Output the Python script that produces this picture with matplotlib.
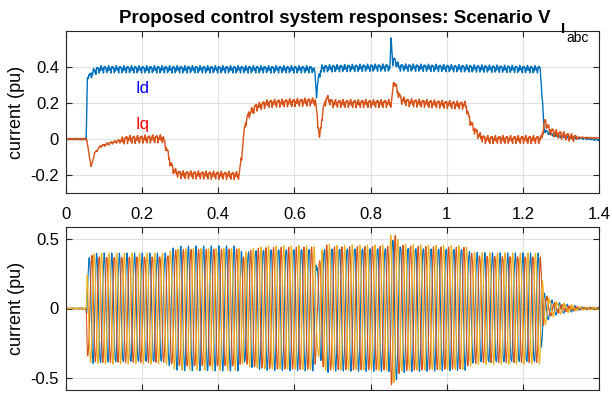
import numpy as np
import matplotlib.pyplot as plt

plt.rcParams['font.family'] = ['Liberation Sans', 'DejaVu Sans']

# d-axis current, breakpoints (s, pu)
id_t = [0, 0.053, 0.056, 0.060, 0.066, 0.075, 0.09, 0.650, 0.654, 0.658,
        0.664, 0.672, 0.851, 0.854, 0.858, 0.862, 0.875, 1.246, 1.250,
        1.256, 1.27, 1.30, 1.40]
id_v = [0, 0, 0.34, 0.35, 0.36, 0.38, 0.39, 0.39, 0.36, 0.25,
        0.35, 0.395, 0.40, 0.555, 0.43, 0.44, 0.40, 0.39, 0.25,
        0.05, 0.03, 0.015, -0.005]

# q-axis current
iq_t = [0, 0.054, 0.066, 0.075, 0.09, 0.12, 0.16, 0.255, 0.265, 0.275,
        0.285, 0.30, 0.455, 0.462, 0.47, 0.48, 0.50, 0.53, 0.655, 0.660,
        0.666, 0.674, 0.684, 0.70, 0.855, 0.861, 0.87, 0.88, 0.90, 1.05,
        1.058, 1.07, 1.085, 1.10, 1.248, 1.258, 1.27, 1.29, 1.33, 1.40]
iq_v = [0, 0, -0.155, -0.08, -0.04, -0.02, 0, 0.005, -0.06, -0.14,
        -0.18, -0.195, -0.2, -0.08, 0.08, 0.14, 0.18, 0.2, 0.21, 0.12,
        0.0, 0.15, 0.23, 0.2, 0.2, 0.325, 0.27, 0.22, 0.205, 0.19,
        0.12, 0.06, 0.02, 0.0, 0.0, 0.1, 0.05, 0.03, 0.01, 0.005]

# ripple amplitude envelope (pu)
rip_t = [0, 0.055, 0.065, 1.25, 1.26, 1.40]
rip_a = [0.003, 0.003, 0.018, 0.018, 0.007, 0.003]

f_grid = 50.0  # Hz
t = np.arange(0, 1.4, 0.0002)
ripple = np.interp(t, rip_t, rip_a) * (0.7 * np.sin(2*np.pi*100*t)
                                       + 0.4 * np.sin(2*np.pi*250*t + 1.0)
                                       + 0.3 * np.sin(2*np.pi*350*t + 2.0))
Id = np.interp(t, id_t, id_v) + ripple
Iq = np.interp(t, iq_t, iq_v) + 1.1 * ripple[::-1]

# inverse Park transform -> phase currents
th = 2*np.pi*f_grid*t
Ia = Id*np.cos(th) - Iq*np.sin(th)
Ib = Id*np.cos(th - 2*np.pi/3) - Iq*np.sin(th - 2*np.pi/3)
Ic = Id*np.cos(th + 2*np.pi/3) - Iq*np.sin(th + 2*np.pi/3)

blue = '#0072BD'
orange = '#D95319'
yellow = '#EDB120'

fig = plt.figure(figsize=(6.12, 3.94), dpi=100)
ax1 = fig.add_axes([66/612, 1 - 193/394, 533/612, 162/394])
ax2 = fig.add_axes([66/612, 1 - 390/394, 533/612, 163/394])

ax1.plot(t, Id, color=blue, lw=1.0)
ax1.plot(t, Iq, color=orange, lw=1.0)
ax1.set_xlim(0, 1.4)
ax1.set_ylim(-0.3, 0.6)
ax1.set_yticks([-0.2, 0, 0.2, 0.4])
ax1.set_yticklabels(['-0.2', '0', '0.2', '0.4'])
ax1.set_xticks(np.arange(0, 1.41, 0.2))
ax1.set_xticklabels(['0', '0.2', '0.4', '0.6', '0.8', '1', '1.2', '1.4'])
ax1.set_ylabel('current (pu)', fontsize=13)
ax1.text(0.2, 0.28, 'Id', color='#0000FF', fontsize=12, ha='center', va='center')
ax1.text(0.2, 0.08, 'Iq', color='#FF0000', fontsize=12, ha='center', va='center')
fig.text(335/612, 1 - 23/394, 'Proposed control system responses: Scenario V',
         fontsize=13.5, fontweight='bold', ha='center', va='baseline')

ax2.plot(t, Ia, color=blue, lw=0.8)
ax2.plot(t, Ib, color=orange, lw=0.8)
ax2.plot(t, Ic, color=yellow, lw=0.8)
ax2.set_xlim(0, 1.4)
ax2.set_ylim(-0.59, 0.59)
ax2.set_yticks([-0.5, 0, 0.5])
ax2.set_yticklabels(['-0.5', '0', '0.5'])
ax2.set_xticks(np.arange(0, 1.41, 0.2))
ax2.set_xticklabels([])
ax2.set_ylabel('current (pu)', fontsize=13)

for ax in (ax1, ax2):
    ax.grid(True, color='#E0E0E0', lw=0.8)
    ax.set_axisbelow(True)
    ax.tick_params(direction='in', top=True, right=True, labelsize=12,
                   color='#262626', length=4, pad=5)
    for sp in ax.spines.values():
        sp.set_color('#262626')
        sp.set_linewidth(0.8)
    ax.yaxis.set_label_coords(-0.076, 0.5)
ax1.tick_params(axis='x', pad=10)

fig.text(561/612, 1 - 33/394, 'I', fontsize=11, fontweight='bold',
         ha='left', va='baseline')
fig.text(566/612, 1 - 42/394, 'abc', fontsize=10, ha='left', va='baseline')

fig.savefig('out.png', dpi=100)
